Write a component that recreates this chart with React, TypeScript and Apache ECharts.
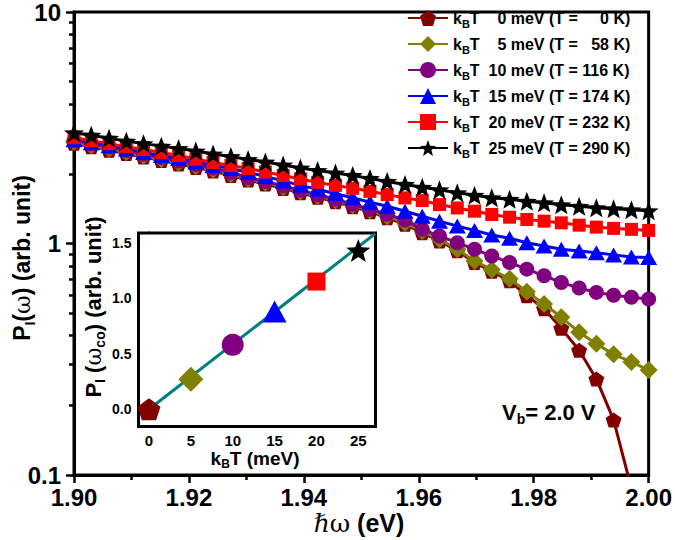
import { useEffect, useRef } from 'react';
import * as echarts from 'echarts';

// photon energy (eV)
const photonEnergy = [1.9, 1.903, 1.9061, 1.9091, 1.9121, 1.9152, 1.9182, 1.9212, 1.9242, 1.9273, 1.9303, 1.9333, 1.9364, 1.9394, 1.9424, 1.9455, 1.9485, 1.9515, 1.9545, 1.9576, 1.9606, 1.9636, 1.9667, 1.9697, 1.9727, 1.9758, 1.9788, 1.9818, 1.9848, 1.9879, 1.9909, 1.9939, 1.997, 2.0];

// P_I(omega) for each k_B T
const p0meV = [2.713, 2.62, 2.531, 2.445, 2.362, 2.281, 2.204, 2.13, 2.056, 1.967, 1.881, 1.808, 1.73, 1.655, 1.583, 1.514, 1.441, 1.372, 1.292, 1.21, 1.114, 1.026, 0.93, 0.828, 0.758, 0.69, 0.595, 0.523, 0.43, 0.346, 0.26, 0.173, 0.0875, 0.04];
const p5meV = [2.754, 2.66, 2.57, 2.482, 2.398, 2.316, 2.238, 2.162, 2.087, 1.997, 1.91, 1.836, 1.756, 1.68, 1.607, 1.537, 1.463, 1.393, 1.312, 1.228, 1.131, 1.042, 0.944, 0.841, 0.77, 0.704, 0.619, 0.548, 0.48, 0.414, 0.369, 0.332, 0.308, 0.284];
const p10meV = [2.782, 2.7, 2.608, 2.519, 2.434, 2.351, 2.271, 2.194, 2.12, 2.027, 1.929, 1.854, 1.774, 1.697, 1.623, 1.552, 1.477, 1.406, 1.339, 1.262, 1.151, 1.077, 1.008, 0.944, 0.884, 0.827, 0.775, 0.725, 0.679, 0.642, 0.615, 0.598, 0.586, 0.576];
const p15meV = [2.809, 2.727, 2.647, 2.557, 2.47, 2.398, 2.328, 2.249, 2.173, 2.109, 2.027, 1.949, 1.864, 1.783, 1.714, 1.639, 1.576, 1.507, 1.448, 1.379, 1.312, 1.249, 1.189, 1.139, 1.088, 1.053, 1.008, 0.976, 0.944, 0.929, 0.913, 0.893, 0.875, 0.869];
const p20meV = [2.865, 2.782, 2.7, 2.621, 2.545, 2.47, 2.398, 2.316, 2.238, 2.173, 2.109, 2.037, 1.968, 1.901, 1.836, 1.783, 1.731, 1.68, 1.626, 1.573, 1.532, 1.473, 1.424, 1.379, 1.335, 1.299, 1.27, 1.249, 1.228, 1.2, 1.177, 1.162, 1.151, 1.139];
const p25meV = [3.01, 2.937, 2.851, 2.768, 2.7, 2.634, 2.57, 2.507, 2.434, 2.375, 2.306, 2.249, 2.184, 2.12, 2.068, 2.017, 1.968, 1.91, 1.854, 1.8, 1.748, 1.705, 1.655, 1.615, 1.576, 1.552, 1.522, 1.5, 1.47, 1.448, 1.427, 1.413, 1.399, 1.385];

const kbtMeV = [0, 5, 10, 15, 20, 25];
const tempK = [0, 58, 116, 174, 232, 290];

// inset: P_I(omega_co) vs k_B T
const pCutoff = [0.0, 0.27, 0.58, 0.88, 1.15, 1.43];
const fitKbt = [0, 27];
const fitP = [0, 1.58];

// tick values
const xMainTicks = [1.9, 1.92, 1.94, 1.96, 1.98, 2.0];
const yMajorTicks = [0.1, 1, 10];
const yMinorTicks = [0.2, 0.3, 0.4, 0.5, 0.6, 0.7, 0.8, 0.9, 2, 3, 4, 5, 6, 7, 8, 9];
const insetXTicks = [0, 5, 10, 15, 20, 25];
const insetXMinor = [2.5, 7.5, 12.5, 17.5, 22.5];
const insetYTicks = [0, 0.5, 1.0, 1.5];
const insetYMinor = [0.25, 0.75, 1.25];

const mainSeries = [p0meV, p5meV, p10meV, p15meV, p20meV, p25meV];

const FONT = "'Liberation Sans', Arial, sans-serif";
const STAR = 'path://M0,-1L0.2469,-0.3398L0.951,-0.309L0.3994,0.1298L0.5878,0.809L0,0.42L-0.5878,0.809L-0.3994,0.1298L-0.951,-0.309L-0.2469,-0.3398Z';
const PENTAGON = 'path://M0,-1L0.951,-0.309L0.588,0.809L-0.588,0.809L-0.951,-0.309Z';
const colors = ['#800000', '#808000', '#800080', '#0000ff', '#ff0000', '#000000'];
const symbols = [PENTAGON, 'diamond', 'circle', 'triangle', 'rect', STAR];
const sizes: any[] = [[16, 15], [18, 18], [15, 15], [17, 15], [13, 13], [20, 19]];
const insetSizes: any[] = [[23, 22], [25, 25], [22, 22], [24, 22], [18, 18], [24, 23]];

const nb = '\u00a0';
const pad = (v: number, w: number) => {
  const s = String(v);
  return nb.repeat(2 * Math.max(0, w - s.length)) + s;
};
const seriesNames = kbtMeV.map((e, i) => `kBT ${e} meV (T = ${tempK[i]} K)`);

export default function App() {
  const ref = useRef<HTMLDivElement>(null);
  useEffect(() => {
    if (!ref.current) return;
    const chart = echarts.init(ref.current, null, { renderer: 'svg' });
    const bold = { fontFamily: FONT, fontWeight: 'bold' as const, color: '#000' };

    const lineSeries = mainSeries.map((vals, i) => ({
      type: 'line',
      name: seriesNames[i],
      xAxisIndex: 0,
      yAxisIndex: 0,
      data: photonEnergy.map((x, j) => [x, vals[j]]),
      symbol: symbols[i],
      symbolSize: sizes[i],
      showAllSymbol: true,
      lineStyle: { color: colors[i], width: 3 },
      itemStyle: { color: colors[i] },
      clip: true,
      z: 2 + i * 0.01,
    }));

    const insetPoints = kbtMeV.map((k, i) => ({
      type: 'scatter',
      name: 'inset' + i,
      xAxisIndex: 1,
      yAxisIndex: 2,
      data: [[k, pCutoff[i]]],
      symbol: symbols[i],
      symbolSize: insetSizes[i],
      itemStyle: { color: colors[i], opacity: 1 },
      z: 5,
    }));

    const legendRich = {
      a: { ...bold, fontSize: 16, lineHeight: 22 },
      s: { ...bold, fontSize: 11, lineHeight: 8, verticalAlign: 'bottom' },
    };

    const option: any = {
      animation: false,
      backgroundColor: '#fff',
      grid: [
        { left: 74, right: 23, top: 9.5, bottom: 65, show: true, borderColor: '#000', borderWidth: 3, backgroundColor: 'transparent' },
        { left: 138.5, top: 233, width: 237, height: 193.5, show: true, borderColor: '#000', borderWidth: 3, backgroundColor: '#fff', z: 3 },
      ],
      legend: {
        data: seriesNames,
        orient: 'vertical',
        left: 402,
        top: 5,
        itemWidth: 40,
        itemHeight: 20,
        itemGap: 7,
        selectedMode: false,
        textStyle: { ...bold, fontSize: 16, rich: legendRich },
        formatter: (name: string) => {
          const i = seriesNames.indexOf(name);
          return `{a|k}{s|B}{a|T${nb}${nb}${pad(kbtMeV[i], 2)} meV (T = ${pad(tempK[i], 3)} K)}`;
        },
      },
      xAxis: [
        {
          type: 'value', gridIndex: 0, position: 'bottom', min: 1.9, max: 2.0, interval: 0.02,
          axisLine: { show: true, lineStyle: { color: '#000', width: 3 } },
          axisTick: { show: true, inside: false, length: 8, lineStyle: { color: '#000', width: 2.5 } },
          minorTick: { show: true, splitNumber: 2, length: 5, lineStyle: { color: '#000', width: 2.5 } },
          axisLabel: { ...bold, fontSize: 24, lineHeight: 24, margin: 10, formatter: (v: number) => v.toFixed(2), customValues: xMainTicks },
          splitLine: { show: false },
        },
        {
          type: 'value', gridIndex: 1, position: 'bottom', min: -1.254, max: 27.05,
          axisLine: { show: true, lineStyle: { color: '#000', width: 3 } },
          axisTick: { show: true, length: 5, customValues: insetXTicks, lineStyle: { color: '#000', width: 2 } },
          axisLabel: { ...bold, fontSize: 15, margin: 6, customValues: insetXTicks, formatter: (v: number) => String(v) },
          splitLine: { show: false },
        },
        {
          type: 'value', gridIndex: 1, position: 'bottom', offset: 0, min: -1.254, max: 27.05,
          axisLine: { show: false },
          axisTick: { show: true, length: 3, customValues: insetXMinor, lineStyle: { color: '#000', width: 2 } },
          axisLabel: { show: false },
          splitLine: { show: false },
        },
      ],
      yAxis: [
        {
          type: 'log', logBase: 10, gridIndex: 0, position: 'left', min: 0.1, max: 10,
          axisLine: { show: true, lineStyle: { color: '#000', width: 3 } },
          axisTick: { show: true, length: 8, customValues: yMajorTicks, lineStyle: { color: '#000', width: 2.5 } },
          axisLabel: { ...bold, fontSize: 24, margin: 13, customValues: yMajorTicks, formatter: (v: number) => (v < 0.5 ? '0.1' : String(Math.round(v))) },
          splitLine: { show: false },
        },
        {
          type: 'log', logBase: 10, gridIndex: 0, position: 'left', offset: 0, min: 0.1, max: 10,
          axisLine: { show: false },
          axisTick: { show: true, length: 5, customValues: yMinorTicks, lineStyle: { color: '#000', width: 2.5 } },
          axisLabel: { show: false },
          splitLine: { show: false },
        },
        {
          type: 'value', gridIndex: 1, position: 'left', min: -0.155, max: 1.587,
          axisLine: { show: true, lineStyle: { color: '#000', width: 3 } },
          axisTick: { show: true, length: 5, customValues: insetYTicks, lineStyle: { color: '#000', width: 2 } },
          axisLabel: { ...bold, fontSize: 14, margin: 7, customValues: insetYTicks, formatter: (v: number) => v.toFixed(1) },
          splitLine: { show: false },
        },
        {
          type: 'value', gridIndex: 1, position: 'left', offset: 0, min: -0.155, max: 1.587,
          axisLine: { show: false },
          axisTick: { show: true, length: 3, customValues: insetYMinor, lineStyle: { color: '#000', width: 2 } },
          axisLabel: { show: false },
          splitLine: { show: false },
        },
      ],
      series: [
        ...lineSeries,
        {
          type: 'line',
          name: 'fit',
          xAxisIndex: 1,
          yAxisIndex: 2,
          data: fitKbt.map((k, i) => [k, fitP[i]]),
          showSymbol: false,
          symbol: 'none',
          lineStyle: { color: '#008080', width: 3 },
          clip: true,
          z: 4,
        },
        ...insetPoints,
      ],
      graphic: [
        {
          type: 'text', x: 22, y: 258, rotation: Math.PI / 2, z: 10,
          style: {
            text: '{a|P}{s|I}{a|(}{w|ω}{a|) (arb. unit)}',
            align: 'center', verticalAlign: 'middle',
            rich: {
              a: { ...bold, fontSize: 23, lineHeight: 30 },
              s: { ...bold, fontSize: 14, lineHeight: 12, verticalAlign: 'bottom' },
              w: { fontFamily: "'DejaVu Serif', serif", fontSize: 23, lineHeight: 30, color: '#000' },
            },
          },
        },
        {
          type: 'text', x: 359, y: 523, z: 10,
          style: {
            text: '{h|ℏ}{w|ω}{a| (eV)}',
            align: 'center', verticalAlign: 'middle',
            rich: {
              h: { fontFamily: "'DejaVu Serif', serif", fontStyle: 'italic', fontSize: 25, lineHeight: 20, color: '#000' },
              w: { fontFamily: "'DejaVu Serif', serif", fontSize: 25, lineHeight: 20, color: '#000' },
              a: { ...bold, fontSize: 25, lineHeight: 20 },
            },
          },
        },
        {
          type: 'text', x: 502, y: 412, z: 10,
          style: {
            text: '{a|V}{s|b}{a|= 2.0 V}',
            align: 'left', verticalAlign: 'middle',
            rich: {
              a: { ...bold, fontSize: 22, lineHeight: 28 },
              s: { ...bold, fontSize: 14, lineHeight: 12, verticalAlign: 'bottom' },
            },
          },
        },
        {
          type: 'text', x: 93, y: 307, rotation: Math.PI / 2, z: 10,
          style: {
            text: '{a|P}{s|I}{a| (}{w|ω}{s|co}{a|) (arb. unit)}',
            align: 'center', verticalAlign: 'middle',
            rich: {
              a: { ...bold, fontSize: 22, lineHeight: 28 },
              s: { ...bold, fontSize: 14, lineHeight: 10, verticalAlign: 'bottom' },
              w: { fontFamily: "'DejaVu Serif', serif", fontSize: 22, lineHeight: 28, color: '#000' },
            },
          },
        },
        {
          type: 'text', x: 255, y: 458, z: 10,
          style: {
            text: '{a|k}{s|B}{a|T (meV)}',
            align: 'center', verticalAlign: 'middle',
            rich: {
              a: { ...bold, fontSize: 19, lineHeight: 24 },
              s: { ...bold, fontSize: 12, lineHeight: 10, verticalAlign: 'bottom' },
            },
          },
        },
      ],
    };
    chart.setOption(option);
    return () => chart.dispose();
  }, []);
  return <div ref={ref} style={{ position: 'absolute', left: 0, top: 0, width: 675, height: 540 }} />;
}
